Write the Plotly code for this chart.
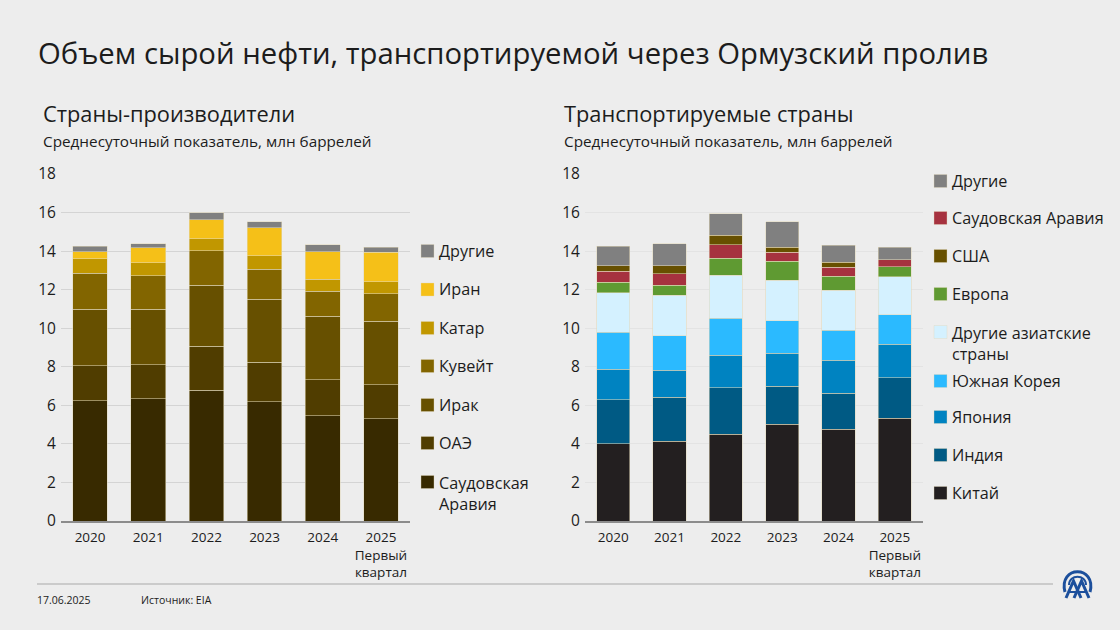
import plotly.graph_objects as go

W, H = 1120, 630
FONT = "Open Sans"
INK = "#1c1c1c"
BG = "#ededed"

years = ["2020", "2021", "2022", "2023", "2024", "2025"]
tick_labels = ["2020", "2021", "2022", "2023", "2024", "2025<br>Первый<br>квартал"]

# Left panel: producers (segment values, million barrels per day)
saudi_prod = [6.24, 6.33, 6.79, 6.19, 5.47, 5.31]
uae_prod = [1.81, 1.77, 2.27, 2.05, 1.86, 1.76]
iraq_prod = [2.93, 2.88, 3.16, 3.26, 3.29, 3.29]
kuwait_prod = [1.87, 1.75, 1.80, 1.57, 1.29, 1.43]
qatar_prod = [0.75, 0.67, 0.61, 0.68, 0.64, 0.61]
iran_prod = [0.37, 0.78, 1.00, 1.47, 1.42, 1.54]
other_prod = [0.29, 0.21, 0.35, 0.31, 0.36, 0.26]

# Right panel: destinations
china_dest = [4.00, 4.14, 4.51, 5.03, 4.77, 5.32]
india_dest = [2.28, 2.29, 2.39, 1.97, 1.87, 2.10]
japan_dest = [1.59, 1.39, 1.70, 1.69, 1.69, 1.74]
korea_dest = [1.92, 1.80, 1.91, 1.70, 1.57, 1.53]
asia_dest = [2.05, 2.08, 2.23, 2.09, 2.08, 1.98]
europe_dest = [0.54, 0.52, 0.89, 0.99, 0.71, 0.52]
saudi_dest = [0.57, 0.61, 0.70, 0.47, 0.47, 0.37]
usa_dest = [0.29, 0.41, 0.49, 0.26, 0.26, 0.0]
other_dest = [1.02, 1.15, 1.12, 1.33, 0.88, 0.64]

left_series = [
    ("Саудовская<br>Аравия", saudi_prod, "#382a00"),
    ("ОАЭ", uae_prod, "#503d00"),
    ("Ирак", iraq_prod, "#675000"),
    ("Кувейт", kuwait_prod, "#826500"),
    ("Катар", qatar_prod, "#c19700"),
    ("Иран", iran_prod, "#f5c018"),
    ("Другие", other_prod, "#808080"),
]
right_series = [
    ("Китай", china_dest, "#231f20"),
    ("Индия", india_dest, "#005a84"),
    ("Япония", japan_dest, "#0083c1"),
    ("Южная Корея", korea_dest, "#2bbaff"),
    ("Другие азиатские<br>страны", asia_dest, "#d4f1ff"),
    ("Европа", europe_dest, "#5f9a32"),
    ("Саудовская Аравия", saudi_dest, "#a6323f"),
    ("США", usa_dest, "#675000"),
    ("Другие", other_dest, "#808080"),
]
left_legend_y = [482, 443, 405, 366, 328, 289.5, 251]
right_legend_y = [493, 455, 417, 381, 332, 294, 218, 256, 181]


def px(x):
    return x / W


def py(y):
    return 1 - y / H


EDGE = "rgba(226,216,186,0.75)"
fig = go.Figure()
for name, vals, col in left_series:
    fig.add_trace(go.Bar(x=years, y=vals, name=name.replace("<br>", " "),
                         marker=dict(color=col, line=dict(color=EDGE, width=0.7)),
                         xaxis="x", yaxis="y", width=0.595, showlegend=False))
for name, vals, col in right_series:
    fig.add_trace(go.Bar(x=years, y=vals, name=name.replace("<br>", " "),
                         marker=dict(color=col, line=dict(color=EDGE, width=0.7)),
                         xaxis="x2", yaxis="y2", width=0.59, showlegend=False))

ann = []
shapes = []


def text(x, y, s, size, color=INK):
    ann.append(dict(xref="paper", yref="paper", x=px(x - 1), y=py(y), text=s, showarrow=False,
                    xanchor="left", yanchor="middle", align="left", borderpad=0,
                    font=dict(family=FONT, size=size, color=color)))


text(38, 53, "Объем сырой нефти, транспортируемой через Ормузский пролив", 29.3)
text(43, 113, "Страны-производители", 21.8)
text(564, 113, "Транспортируемые страны", 21.8)
text(43, 141, "Среднесуточный показатель, млн баррелей", 15.3)
text(564, 141, "Среднесуточный показатель, млн баррелей", 15.3)
text(37, 600, "17.06.2025", 10.5)
text(141, 600, "Источник: EIA", 10.5)


def legend(series, ys, sx, tx):
    for (name, _, col), y in zip(series, ys):
        shapes.append(dict(type="rect", xref="paper", yref="paper", x0=px(sx), x1=px(sx + 13),
                           y0=py(y - 6.5), y1=py(y + 6.5), fillcolor=col,
                           line=dict(color=EDGE, width=0.5)))
        if "<br>" in name:
            ann.append(dict(xref="paper", yref="paper", x=px(tx - 1), y=py(y - 11), text=name, showarrow=False,
                            xanchor="left", yanchor="top", align="left", borderpad=0,
                            font=dict(family=FONT, size=16.2, color=INK)))
        else:
            text(tx, y, name, 16.2)


legend(left_series, left_legend_y, 421, 439)
legend(right_series, right_legend_y, 934, 952)

# footer rule
shapes.append(dict(type="line", xref="paper", yref="paper", x0=px(37), x1=px(1053), y0=py(584), y1=py(584),
                   line=dict(color="#a9a9a9", width=1)))

# logo
LOGO = "#1c4f9c"


def logo_path(d, width):
    path = " ".join(f"{c} {px(p[0])} {py(p[1])}" if c else f"{px(p[0])} {py(p[1])}" for c, p in d)
    shapes.append(dict(type="path", xref="paper", yref="paper", path=path, line=dict(color=LOGO, width=width)))


logo_path([("M", (1065, 592)), ("C", (1058, 565)), ("", (1097, 565)), ("", (1090, 592))], 3)
logo_path([("M", (1069, 585)), ("C", (1069, 574)), ("", (1086, 574)), ("", (1086, 585))], 2)
logo_path([("M", (1066, 598)), ("L", (1073.5, 581)), ("L", (1081, 598))], 3)
logo_path([("M", (1074, 598)), ("L", (1081.5, 581)), ("L", (1089, 598))], 3)
logo_path([("M", (1069, 592)), ("L", (1086, 592))], 2)

y_common = dict(range=[0, 18], tick0=0, dtick=2, showline=False, ticks="outside", ticklen=1,
                tickcolor="rgba(0,0,0,0)", zeroline=False, automargin=False,
                tickfont=dict(family=FONT, size=15.5, color=INK))
x_common = dict(tickmode="array", tickvals=years, ticktext=tick_labels, showgrid=False, ticks="outside", ticklen=3,
                tickcolor="rgba(0,0,0,0)", showline=True, linecolor="#8c8c8c", linewidth=1.5, automargin=False,
                tickfont=dict(family=FONT, size=13.5, color=INK), tickangle=0)

fig.update_layout(
    width=W, height=H, autosize=False, margin=dict(l=0, r=0, t=0, b=0, pad=0, autoexpand=False),
    paper_bgcolor=BG, plot_bgcolor=BG, barmode="stack", showlegend=False,
    font=dict(family=FONT, color=INK),
    xaxis=dict(domain=[px(61), px(410)], anchor="y", **x_common),
    yaxis=dict(domain=[py(521), py(174)], anchor="x", gridcolor="#d4d4d4", gridwidth=1.2, **y_common),
    xaxis2=dict(domain=[px(585), px(923)], anchor="y2", **x_common),
    yaxis2=dict(domain=[py(521), py(174)], anchor="x2", gridcolor="#e3e3e3", gridwidth=1.2, **y_common),
    annotations=ann, shapes=shapes,
)

fig.write_html("out.html", config={"displayModeBar": False},
               post_script="document.body.style.margin='0';document.documentElement.style.background='#ededed';")
